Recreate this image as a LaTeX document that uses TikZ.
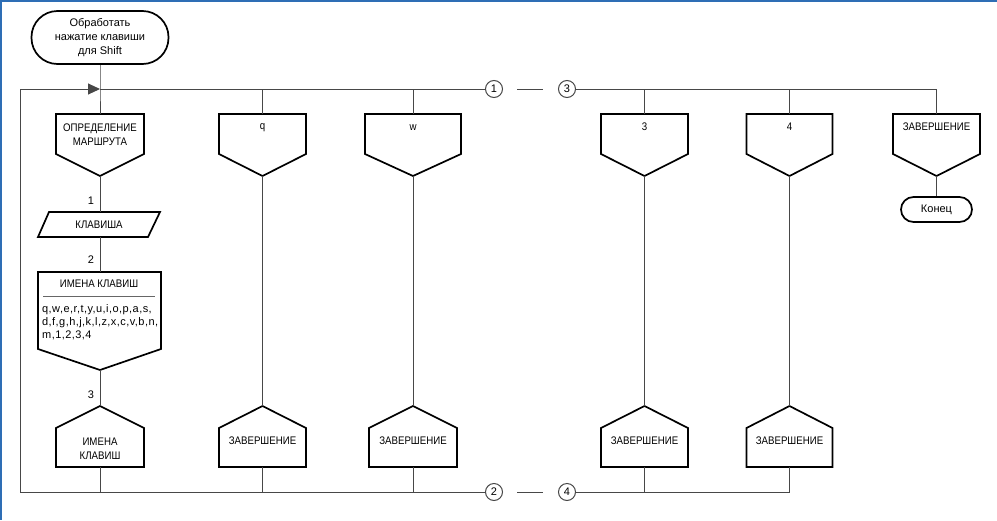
\documentclass[tikz,border=0pt]{standalone}
\usepackage{fontspec}
\setmainfont{Liberation Sans}
\usetikzlibrary{arrows.meta}
\newcommand\LoopBeg[6]{% name, xl, xr, top, text, text y
  \coordinate (#1-t) at ({(#2+#3)/2},#4);
  \coordinate (#1-b) at ({(#2+#3)/2},#4+62);
  \draw[shp] (#2,#4) -- (#3,#4) -- (#3,#4+40) -- (#1-b) -- (#2,#4+40) -- cycle;
  \node[txt] (#1) at ({(#2+#3)/2},#6) {#5};
}
\newcommand\LoopFin[6]{% name, xl, xr, top point, text, text y
  \coordinate (#1-t) at ({(#2+#3)/2},#4);
  \coordinate (#1-b) at ({(#2+#3)/2},#4+61);
  \draw[shp] (#1-t) -- (#3,#4+22) -- (#3,#4+61) -- (#2,#4+61) -- (#2,#4+22) -- cycle;
  \node[txt] (#1) at ({(#2+#3)/2},#6) {#5};
}
\begin{document}
\begin{tikzpicture}[x=1pt,y=-1pt,
  conn/.style={draw=black!72, line width=1pt},
  shp/.style={draw=black, line width=1.7pt, line join=miter},
  txt/.style={font=\fontsize{11}{14}\selectfont\addfontfeature{FakeStretch=0.88}, align=center, inner sep=0pt},
  lbl/.style={font=\fontsize{11}{12}\selectfont, inner sep=0pt},
  circ/.style={circle, draw=black!72, line width=1pt, minimum size=17pt, inner sep=0pt, font=\fontsize{11}{12}\selectfont},
  term/.style={draw=black, line width=1.7pt, inner sep=0pt, align=center, font=\fontsize{11}{14}\selectfont}]
\useasboundingbox (0,0) rectangle (997,520);
\fill[white] (0,0) rectangle (997,520);
\draw[draw={rgb,255:red,46;green,110;blue,181}, line width=3pt] (0,520) -- (0,0) -- (997,0);

% start terminator
\node[term, rounded corners=26pt, minimum width=137pt, minimum height=53pt] (start) at (100,37.5) {Обработать\\нажатие клавиши\\для Shift};

% frame coordinates
\coordinate (TL) at (20,89);
\coordinate (BL) at (20,492);
\coordinate (jT0) at (100,89);
\coordinate (jT1) at (262.5,89);
\coordinate (jT2) at (413,89);
\coordinate (jT3) at (644.5,89);
\coordinate (jT4) at (789.5,89);
\coordinate (jT5) at (936.5,89);
\coordinate (jB0) at (100,492);
\coordinate (jB1) at (262.5,492);
\coordinate (jB2) at (413,492);
\coordinate (jB3) at (644.5,492);
\coordinate (jB4) at (789.5,492);
\node[circ] (c1) at (494,89) {1};
\node[circ] (c3) at (567,89) {3};
\node[circ] (c2) at (494,492) {2};
\node[circ] (c4) at (567,492) {4};
\coordinate (s1a) at (517,89);
\coordinate (s1b) at (543,89);
\coordinate (s2a) at (517,492);
\coordinate (s2b) at (543,492);

% left column shapes
\LoopBeg{def}{56}{144}{114}{ОПРЕДЕЛЕНИЕ\\МАРШРУТА}{135}
\coordinate (para-t) at (100,212);
\coordinate (para-b) at (100,237);
\draw[shp] (49,212) -- (160,212) -- (148,237) -- (38,237) -- cycle;
\node[txt] (para) at (99,225) {КЛАВИША};
\coordinate (names-t) at (100,272);
\coordinate (names-b) at (100,370);
\draw[shp] (38,272) -- (161,272) -- (161,349) -- (names-b) -- (38,349) -- cycle;
\draw[black!60, line width=0.8pt] (43,296) -- (155,296);
\node[txt] (namestitle) at (99,284) {ИМЕНА КЛАВИШ};
\node[anchor=north west, inner sep=0pt, align=left, font=\fontsize{11}{13}\selectfont\addfontfeature{LetterSpace=4}] (nameslist) at (42,304) {q,w,e,r,t,y,u,i,o,p,a,s,\\d,f,g,h,j,k,l,z,x,c,v,b,n,\\m,1,2,3,4};
\LoopFin{nend}{56}{144}{406}{ИМЕНА\\КЛАВИШ}{449}

% other columns
\LoopBeg{q}{219}{306}{114}{q}{128}
\LoopFin{qend}{219}{306}{406}{ЗАВЕРШЕНИЕ}{441}
\LoopBeg{w}{365}{461}{114}{w}{128}
\LoopFin{wend}{369}{457}{406}{ЗАВЕРШЕНИЕ}{441}
\LoopBeg{k3}{601}{688}{114}{3}{127}
\LoopFin{k3end}{601}{688}{406}{ЗАВЕРШЕНИЕ}{441}
\LoopBeg{k4}{746.5}{832.5}{114}{4}{127}
\LoopFin{k4end}{746.5}{832.5}{406}{ЗАВЕРШЕНИЕ}{441}
\LoopBeg{fin}{893}{980}{114}{ЗАВЕРШЕНИЕ}{127}
\node[term, rounded corners=12.5pt, minimum width=71pt, minimum height=25pt] (konec) at (936.5,209.5) {Конец};

% step labels
\node[lbl] (l1) at (91,201) {1};
\node[lbl] (l2) at (91,260) {2};
\node[lbl] (l3) at (91,395) {3};

% connectors
\draw[conn] (start.south) -- (jT0) -- (def-t);
\draw[conn, -{Triangle[length=12pt,width=11pt]}] (TL) -- (jT0);
\draw[conn] (jT0) -- (c1);
\draw[conn] (TL) -- (BL) -- (c2);
\draw[conn] (s1a) -- (s1b);
\draw[conn] (s2a) -- (s2b);
\draw[conn] (def-b) -- (para-t);
\draw[conn] (para-b) -- (names-t);
\draw[conn] (names-b) -- (nend-t);
\draw[conn] (nend-b) -- (jB0);
\draw[conn] (jT1) -- (q-t);
\draw[conn] (q-b) -- (qend-t);
\draw[conn] (qend-b) -- (jB1);
\draw[conn] (jT2) -- (w-t);
\draw[conn] (w-b) -- (wend-t);
\draw[conn] (wend-b) -- (jB2);
\draw[conn] (c3) -- (jT5) -- (fin-t);
\draw[conn] (jT3) -- (k3-t);
\draw[conn] (jT4) -- (k4-t);
\draw[conn] (k3-b) -- (k3end-t);
\draw[conn] (k4-b) -- (k4end-t);
\draw[conn] (k3end-b) -- (jB3);
\draw[conn] (c4) -- (jB4) -- (k4end-b);
\draw[conn] (fin-b) -- (konec.north);
\end{tikzpicture}
\end{document}
